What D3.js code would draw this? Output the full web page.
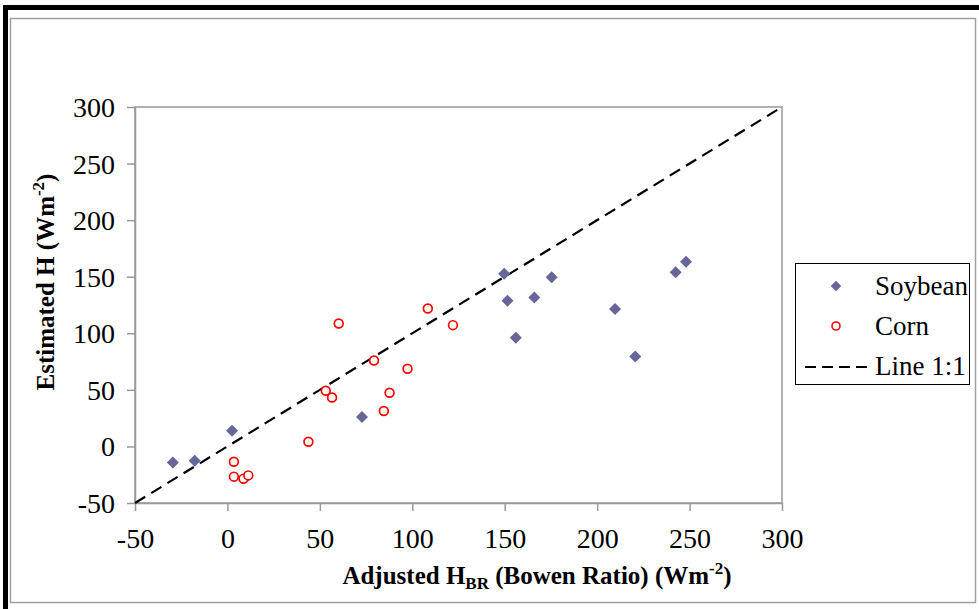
<!DOCTYPE html>
<html>
<head>
<meta charset="utf-8">
<script src="https://cdn.jsdelivr.net/npm/d3@7"></script>
<style>
  body { margin: 0; background: #fff; }
  svg text { font-family: "Liberation Serif", "Times New Roman", serif; fill: #000; }
</style>
</head>
<body>
<script>
// soybean points (x = adjusted H_BR, y = estimated H)
var soyX = [-29.5, -17.7, 2.5, 72.8, 149.7, 151.5, 156, 166, 175.4, 209.7, 220.6, 242.5, 248.1];
var soyY = [-14.1, -12.6, 13.9, 26, 152.6, 128.7, 96, 131.6, 149.6, 121.4, 79.5, 154, 163.2];
// corn points
var cornX = [3.5, 3.5, 8.7, 11.3, 43.8, 53.2, 56.6, 60.2, 79.3, 84.6, 87.7, 97.4, 108.4, 122];
var cornY = [-13.5, -26.7, -28.5, -25.6, 4.2, 49.2, 43.3, 108.7, 76, 31.3, 47.4, 68.6, 121.9, 107.2];
// 1:1 line ends
var lineXY = [-50, 300];
var xTicks = [-50, 0, 50, 100, 150, 200, 250, 300];
var yTicks = [-50, 0, 50, 100, 150, 200, 250, 300];
var legendNames = ["Soybean", "Corn", "Line 1:1"];

var W = 979, H = 609;
var plot = {left: 135, top: 107, right: 782, bottom: 503};

var svg = d3.select("body").append("svg")
    .attr("width", W)
    .attr("height", H);

// outer frames
svg.append("rect")
    .attr("x", 10.5).attr("y", 18.5)
    .attr("width", 965).attr("height", 584)
    .attr("fill", "none").attr("stroke", "#a0a0a0").attr("stroke-width", 1.5);
svg.append("line")
    .attr("x1", 3).attr("x2", W).attr("y1", 7.5).attr("y2", 7.5)
    .attr("stroke", "#000").attr("stroke-width", 5);
svg.append("line")
    .attr("x1", 5.5).attr("x2", 5.5).attr("y1", 5).attr("y2", H)
    .attr("stroke", "#000").attr("stroke-width", 5);

var x = d3.scaleLinear().domain([-50, 300]).range([plot.left, plot.right]);
var y = d3.scaleLinear().domain([-50, 300]).range([plot.bottom, plot.top]);

// plot area border
svg.append("rect")
    .attr("x", plot.left).attr("y", plot.top)
    .attr("width", plot.right - plot.left).attr("height", plot.bottom - plot.top)
    .attr("fill", "none").attr("stroke", "#999").attr("stroke-width", 1.5);

// axes (plain hyphen for negatives, like the original)
var fmt = function(d) { return String(d); };
var xAxis = svg.append("g")
    .attr("transform", "translate(0," + plot.bottom + ")")
    .call(d3.axisBottom(x).tickValues(xTicks).tickFormat(fmt).tickSize(8).tickPadding(12).tickSizeOuter(0));
var yAxis = svg.append("g")
    .attr("transform", "translate(" + plot.left + ",0)")
    .call(d3.axisLeft(y).tickValues(yTicks).tickFormat(fmt).tickSize(8).tickPadding(12).tickSizeOuter(0));
[xAxis, yAxis].forEach(function(a) {
    a.selectAll("path").attr("stroke", "#999").attr("stroke-width", 1.5);
    a.selectAll("line").attr("stroke", "#999").attr("stroke-width", 1.5);
    a.selectAll("text")
        .style("font-family", '"Liberation Serif", serif')
        .style("font-size", "28px")
        .attr("fill", "#000");
});
xAxis.selectAll("text").attr("dy", "0.9em");
yAxis.selectAll("text").attr("dy", "0.34em");

// 1:1 line
svg.append("line")
    .attr("x1", x(lineXY[0])).attr("y1", y(lineXY[0]))
    .attr("x2", x(lineXY[1])).attr("y2", y(lineXY[1]))
    .attr("stroke", "#000").attr("stroke-width", 2.2)
    .attr("stroke-dasharray", "12,7");

var diamond = d3.symbol().type(d3.symbolSquare).size(72);

var soy = soyX.map(function(v, i) { return {x: v, y: soyY[i]}; });
var corn = cornX.map(function(v, i) { return {x: v, y: cornY[i]}; });

svg.selectAll(".soy")
    .data(soy)
  .enter().append("path")
    .attr("class", "soy")
    .attr("d", diamond)
    .attr("transform", function(d) { return "translate(" + x(d.x) + "," + y(d.y) + ") rotate(45)"; })
    .attr("fill", "#666699");

svg.selectAll(".corn")
    .data(corn)
  .enter().append("circle")
    .attr("class", "corn")
    .attr("cx", function(d) { return x(d.x); })
    .attr("cy", function(d) { return y(d.y); })
    .attr("r", 4.4)
    .attr("fill", "#fff")
    .attr("stroke", "#ff0000")
    .attr("stroke-width", 1.7);

// axis titles
var xt = svg.append("text")
    .attr("x", 537).attr("y", 584)
    .attr("text-anchor", "middle")
    .style("font-size", "25px").style("font-weight", "bold");
xt.append("tspan").text("Adjusted H");
xt.append("tspan").text("BR").attr("dy", 5).style("font-size", "17px");
xt.append("tspan").text(" (Bowen Ratio) (Wm").attr("dy", -5);
xt.append("tspan").text("-2").attr("dy", -10).style("font-size", "17px");
xt.append("tspan").text(")").attr("dy", 10);

var yt = svg.append("text")
    .attr("transform", "translate(54,282) rotate(-90)")
    .attr("text-anchor", "middle")
    .style("font-size", "25px").style("font-weight", "bold");
yt.append("tspan").text("Estimated H (Wm");
yt.append("tspan").text("-2").attr("dy", -10).style("font-size", "17px");
yt.append("tspan").text(")").attr("dy", 10);

// legend
var lg = svg.append("g").attr("transform", "translate(795,263)");
lg.append("rect")
    .attr("x", 0.5).attr("y", 0.5)
    .attr("width", 174).attr("height", 121)
    .attr("fill", "#fff").attr("stroke", "#000").attr("stroke-width", 1);
lg.append("path")
    .attr("d", d3.symbol().type(d3.symbolSquare).size(56))
    .attr("transform", "translate(41,23) rotate(45)")
    .attr("fill", "#666699");
lg.append("circle")
    .attr("cx", 41).attr("cy", 63).attr("r", 4)
    .attr("fill", "#fff").attr("stroke", "#ff0000").attr("stroke-width", 1.6);
lg.append("line")
    .attr("x1", 10).attr("x2", 72).attr("y1", 104).attr("y2", 104)
    .attr("stroke", "#000").attr("stroke-width", 2)
    .attr("stroke-dasharray", "11,6");
lg.selectAll(".lt")
    .data(legendNames)
  .enter().append("text")
    .attr("class", "lt")
    .attr("x", 80)
    .attr("y", function(d, i) { return 32 + i * 40; })
    .style("font-size", "27px")
    .text(function(d) { return d; });
</script>
</body>
</html>
